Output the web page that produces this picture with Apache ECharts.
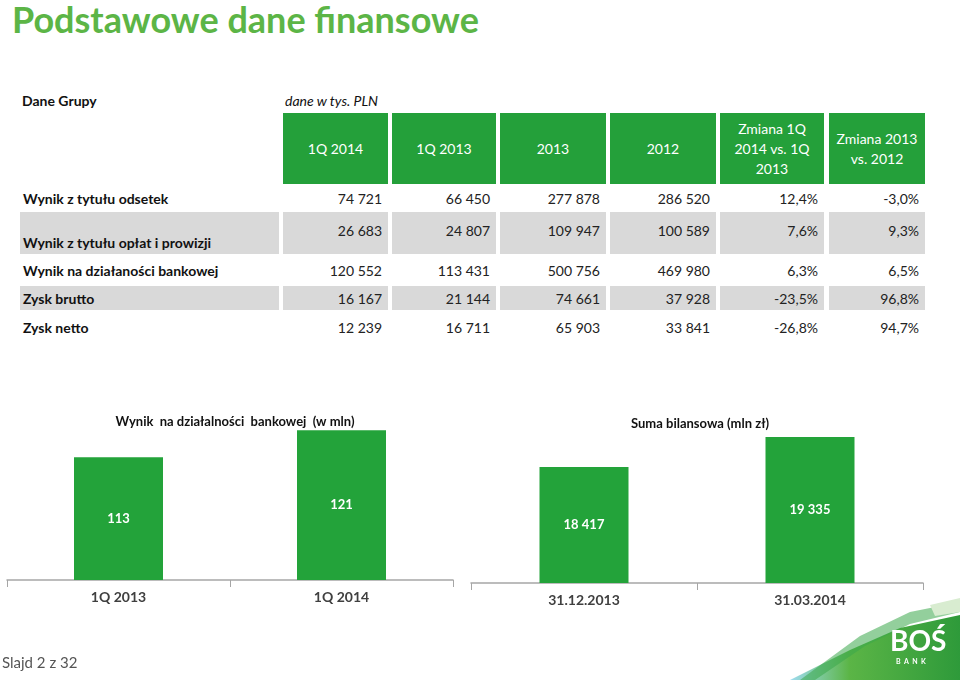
<!DOCTYPE html>
<html>
<head>
<meta charset="utf-8">
<script src="https://cdn.jsdelivr.net/npm/echarts@6/dist/echarts.min.js"></script>
<style>
  body { margin: 0; width: 960px; height: 680px; position: relative; background: #fff; font-family: Lato, "Open Sans", sans-serif; overflow: hidden; }
  .abs { position: absolute; box-sizing: border-box; }
  .hdr { background: #24a03a; color: #fff; font-size: 14px; display: flex; align-items: center; justify-content: center; text-align: center; line-height: 20px; }
  .num { font-size: 14px; color: #222; text-align: right; padding-right: 6px; display: flex; align-items: center; justify-content: flex-end; }
  .lbl { font-size: 14px; color: #111; font-weight: bold; padding-left: 3px; display: flex; align-items: center; }
  .shade { background: #d9d9d9; }
  #chart { position: absolute; left: 0; top: 400px; width: 960px; height: 280px; }
</style>
</head>
<body>
<div id="chart"></div>
<div class="abs" style="left:12px;top:-3px;font-size:36px;font-weight:bold;color:#5cb546;">Podstawowe dane finansowe</div>
<div class="abs" style="left:22px;top:92px;font-size:14px;font-weight:bold;color:#111;">Dane Grupy</div>
<div class="abs" style="left:285px;top:92px;font-size:14px;font-style:italic;color:#111;">dane w tys. PLN</div>
<div class="abs" style="left:2px;top:653px;font-size:15px;color:#555;">Slajd 2 z 32</div>
<div id="table"></div>
<script>
// nagłówki tabeli
const headers = ['1Q 2014', '1Q 2013', '2013', '2012', 'Zmiana 1Q 2014 vs. 1Q 2013', 'Zmiana 2013 vs. 2012']
const rowLabels = ['Wynik z tytułu odsetek', 'Wynik z tytułu opłat i prowizji', 'Wynik na działaności bankowej', 'Zysk brutto', 'Zysk netto']
const rowValues = [
  ['74 721', '66 450', '277 878', '286 520', '12,4%', '-3,0%'],
  ['26 683', '24 807', '109 947', '100 589', '7,6%', '9,3%'],
  ['120 552', '113 431', '500 756', '469 980', '6,3%', '6,5%'],
  ['16 167', '21 144', '74 661', '37 928', '-23,5%', '96,8%'],
  ['12 239', '16 711', '65 903', '33 841', '-26,8%', '94,7%']
]

// wykresy
const incomeCategories = ['1Q 2013', '1Q 2014']
const incomeValues = [113, 121]
const balanceCategories = ['31.12.2013', '31.03.2014']
const balanceValues = [18417, 19335]

// budowa tabeli
const cols = [[283, 388], [392, 496], [500, 606], [610, 716], [720, 824], [829, 925]]
const rows = [[186, 210], [212, 254], [258, 283], [286, 310], [314, 340]]
const table = document.getElementById('table')
const add = (cls, x0, y0, x1, y1, html, extra = '') => {
  const d = document.createElement('div')
  d.className = 'abs ' + cls
  d.style.cssText = `left:${x0}px;top:${y0}px;width:${x1 - x0}px;height:${y1 - y0}px;` + extra
  d.innerHTML = html
  table.appendChild(d)
}
headers.forEach((h, i) => add('hdr', cols[i][0], 113, cols[i][1], 184, h, i === 4 ? 'padding:0 10px;' : (i === 5 ? 'padding:0 2px;' : '')))
rowLabels.forEach((label, r) => {
  const shade = r % 2 === 1 ? ' shade' : ''
  add('lbl' + shade, 20, rows[r][0], 279, rows[r][1], label, r === 1 ? 'align-items:flex-end;padding-bottom:3px;' : '')
  rowValues[r].forEach((v, c) => add('num' + shade, cols[c][0], rows[r][0], cols[c][1], rows[r][1], v, r === 1 ? 'padding-bottom:6px;' : ''))
})

const chart = echarts.init(document.getElementById('chart'))
const GREEN = '#23a33a'
const axisX = (data) => ({
  type: 'category',
  data: data,
  axisLine: { lineStyle: { color: '#a6a6a6', width: 1.5 } },
  axisTick: { show: true, length: 7, lineStyle: { color: '#a6a6a6' } },
  axisLabel: { color: '#404040', fontWeight: 'bold', fontSize: 14, margin: 10, fontFamily: 'Lato' }
})
const axisY = (min, max) => ({ type: 'value', min: min, max: max, show: false, splitLine: { show: false } })
const barSeries = (data, idx) => ({
  type: 'bar',
  xAxisIndex: idx,
  yAxisIndex: idx,
  data: data,
  barWidth: 89,
  itemStyle: { color: GREEN },
  label: {
    show: true,
    position: 'inside',
    color: '#fff',
    fontWeight: 'bold',
    fontSize: 13,
    fontFamily: 'Lato',
    formatter: p => p.value >= 1000 ? String(p.value).replace(/\B(?=(\d{3})+(?!\d))/g, ' ') : p.value
  }
})

chart.setOption({
  animation: false,
  title: [
    { text: 'Wynik  na działalności  bankowej  (w mln)', left: 230, top: 10, textAlign: 'center',
      textStyle: { fontSize: 13, fontWeight: 'bold', color: '#111', fontFamily: 'Lato' } },
    { text: 'Suma bilansowa (mln zł)', left: 695, top: 12, textAlign: 'center',
      textStyle: { fontSize: 13, fontWeight: 'bold', color: '#111', fontFamily: 'Lato' } }
  ],
  grid: [
    { left: 7, width: 446, top: 17, height: 163 },
    { left: 471, width: 452, top: 32, height: 151 }
  ],
  xAxis: [Object.assign(axisX(incomeCategories), { gridIndex: 0 }), Object.assign(axisX(balanceCategories), { gridIndex: 1 })],
  yAxis: [Object.assign(axisY(76.6, 124.9), { gridIndex: 0 }), Object.assign(axisY(14867, 19488), { gridIndex: 1 })],
  series: [barSeries(incomeValues, 0), barSeries(balanceValues, 1)],
  graphic: [
    { type: 'polygon', shape: { points: [[790, 280], [850, 250], [900, 228], [960, 215], [960, 280]] },
      style: { fill: new echarts.graphic.LinearGradient(0, 0, 1, 0, [
        { offset: 0, color: '#9fdcf0' }, { offset: 0.35, color: '#5bb546' }, { offset: 1, color: '#2e9a3a' }]) } },
    { type: 'polygon', shape: { points: [[800, 280], [860, 236], [910, 212], [960, 202], [960, 212], [910, 224], [865, 246], [815, 280]] },
      style: { fill: '#3aa84a', opacity: 0.55 } },
    { type: 'polygon', shape: { points: [[930, 205], [960, 198], [960, 212], [935, 216]] },
      style: { fill: '#d8ecd0' } },
    { type: 'text', x: 890, y: 228, style: { text: 'BOŚ', fill: '#fff', font: 'bold 28px Lato' } },
    { type: 'text', x: 896, y: 258, style: { text: 'B  A  N  K', fill: '#fff', font: 'bold 7px Lato' } }
  ]
})
</script>
</body>
</html>
